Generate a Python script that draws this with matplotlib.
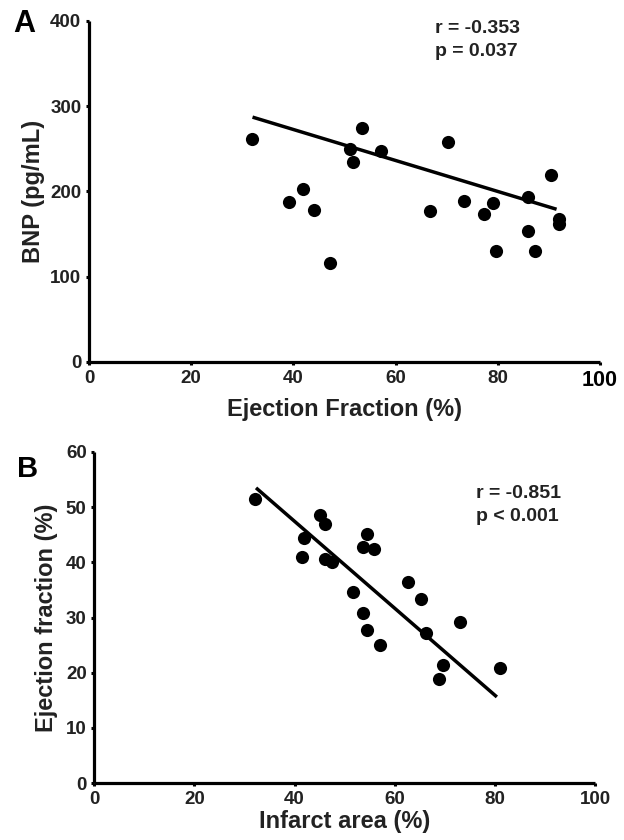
import matplotlib
matplotlib.use('Agg')
import matplotlib.pyplot as plt

plt.rcParams['font.family'] = ['Liberation Sans', 'DejaVu Sans']

# Panel A: BNP vs Ejection Fraction
ef_a = [31.9, 39.1, 41.9, 44.1, 47.1, 51.1, 51.6, 53.5, 57.1, 66.7, 70.2,
        73.4, 77.3, 79.1, 79.7, 85.9, 85.9, 87.2, 90.4, 92.0, 92.0]
bnp_a = [261, 187, 203, 178, 116, 250, 234, 274, 247, 177, 258,
         189, 174, 186, 130, 193, 154, 130, 219, 168, 162]
fit_a_x = [32.0, 91.5]
fit_a_y = [287, 179]
stats_a = ["r = -0.353", "p = 0.037"]

# Panel B: Ejection fraction vs Infarct area
infarct_b = [32.1, 45.0, 46.1, 41.9, 41.5, 46.1, 47.5, 54.5, 53.6, 55.9, 51.7,
             53.6, 54.5, 57.1, 62.7, 65.3, 66.3, 73.0, 69.7, 68.8, 81.1]
ef_b = [51.5, 48.6, 47.0, 44.4, 40.9, 40.6, 40.0, 45.2, 42.7, 42.5, 34.6,
        30.8, 27.7, 25.0, 36.4, 33.4, 27.1, 29.2, 21.3, 18.8, 20.8]
fit_b_x = [32.3, 80.4]
fit_b_y = [53.5, 15.6]
stats_b = ["r = -0.851", "p < 0.001"]

xticks = [0, 20, 40, 60, 80, 100]
yticks_a = [0, 100, 200, 300, 400]
yticks_b = [0, 10, 20, 30, 40, 50, 60]

W, H = 624, 840
fig = plt.figure(figsize=(W / 100, H / 100), dpi=100)
axA = fig.add_axes([89 / W, 1 - 362 / H, (600 - 89) / W, (362 - 20.7) / H])
axB = fig.add_axes([94.3 / W, 1 - 783 / H, (595 - 94.3) / W, (783 - 452) / H])


def style(ax):
    for s in ['top', 'right']:
        ax.spines[s].set_visible(False)
    for s in ['left', 'bottom']:
        ax.spines[s].set_linewidth(2.3)
        ax.spines[s].set_capstyle('butt')
    ax.tick_params(axis='both', direction='out', length=2.5, width=2.2,
                   labelsize=13.5, pad=3)
    for lab in ax.get_xticklabels() + ax.get_yticklabels():
        lab.set_fontweight('bold')
        lab.set_color('#222222')


# Panel A
axA.plot(fit_a_x, fit_a_y, color='black', lw=2.5, solid_capstyle='butt')
axA.scatter(ef_a, bnp_a, s=90, color='black', zorder=3, linewidths=0)
axA.set_xlim(0, 100)
axA.set_ylim(0, 400)
axA.set_xticks(xticks)
axA.set_yticks(yticks_a)
style(axA)
xl = axA.get_xticklabels()
xl[-1].set_fontsize(15.5)
xl[-1].set_fontweight('heavy')
xl[-1].set_color('black')
axA.set_xlabel("Ejection Fraction (%)", fontsize=17, fontweight='bold',
               color='#222222', labelpad=5)
axA.set_ylabel("BNP (pg/mL)", fontsize=17, fontweight='bold',
               color='#222222', labelpad=4)
fig.text(435 / W, 1 - 33 / H, stats_a[0], fontsize=14, fontweight='bold',
         color='#222222', va='baseline', ha='left')
fig.text(435 / W, 1 - 56 / H, stats_a[1], fontsize=14, fontweight='bold',
         color='#222222', va='baseline', ha='left')
fig.text(13 / W, 1 - 32 / H, "A", fontsize=22, fontweight='bold',
         va='baseline', ha='left')

# Panel B
axB.plot(fit_b_x, fit_b_y, color='black', lw=2.5, solid_capstyle='butt')
axB.scatter(infarct_b, ef_b, s=90, color='black', zorder=3, linewidths=0)
axB.set_xlim(0, 100)
axB.set_ylim(0, 60)
axB.set_xticks(xticks)
axB.set_yticks(yticks_b)
style(axB)
axB.set_xlabel("Infarct area (%)", fontsize=17, fontweight='bold',
               color='#222222', labelpad=2)
axB.set_ylabel("Ejection fraction (%)", fontsize=17, fontweight='bold',
               color='#222222', labelpad=6)
fig.text(476 / W, 1 - 498 / H, stats_b[0], fontsize=14, fontweight='bold',
         color='#222222', va='baseline', ha='left')
fig.text(476 / W, 1 - 521 / H, stats_b[1], fontsize=14, fontweight='bold',
         color='#222222', va='baseline', ha='left')
fig.text(17 / W, 1 - 477 / H, "B", fontsize=21, fontweight='bold',
         va='baseline', ha='left')

fig.savefig('out.png', dpi=100, facecolor='white')
